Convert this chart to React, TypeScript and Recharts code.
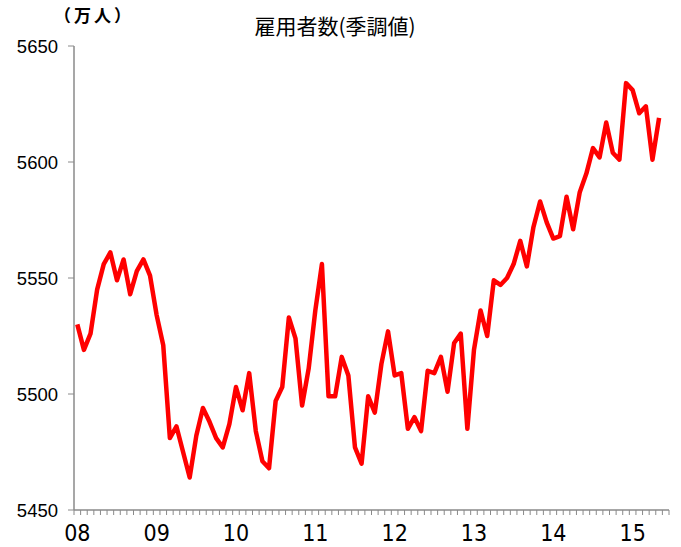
import React from 'react';
import { LineChart, Line, XAxis, YAxis } from 'recharts';

// 雇用者数（季節調整値）, 2008年1月〜2015年5月, 単位: 万人
const yearLabels = ['08', '09', '10', '11', '12', '13', '14', '15'];
const monthLabels = ['01', '02', '03', '04', '05', '06', '07', '08', '09', '10', '11', '12'];

const employees = [
    5530, 5519, 5526, 5545, 5556, 5561, 5549, 5558, 5543, 5553, 5558, 5551,
    5534, 5521, 5481, 5486, 5475, 5464, 5482, 5494, 5488, 5481, 5477, 5487,
    5503, 5493, 5509, 5484, 5471, 5468, 5497, 5503, 5533, 5524, 5495, 5511,
    5536, 5556, 5499, 5499, 5516, 5508, 5477, 5470, 5499, 5492, 5513, 5527,
    5508, 5509, 5485, 5490, 5484, 5510, 5509, 5516, 5501, 5522, 5526, 5485,
    5519, 5536, 5525, 5549, 5547, 5550, 5556, 5566, 5555, 5572, 5583, 5574,
    5567, 5568, 5585, 5571, 5587, 5595, 5606, 5602, 5617, 5604, 5601, 5634,
    5631, 5621, 5624, 5601, 5619,
];

const yTicks = [5450, 5500, 5550, 5600, 5650];

// 軸は2015年6月まで（最後の月は空）
const categories = yearLabels.flatMap(y => monthLabels.map(m => `${y}/${m}`)).slice(0, 90);

const data = categories.map((c, i) => ({
    month: c,
    value: i < employees.length ? employees[i] : null,
}));

const CHART_W = 681;
const CHART_H = 547;
const LEFT = 74;
const RIGHT = 12;
const PLOT_W = CHART_W - LEFT - RIGHT;
const STEP = PLOT_W / categories.length;
const AXIS_COLOR = '#8a8a8a';

const MonthTick = (props: any) => {
    const { x, y, payload } = props;
    const idx = payload.index;
    const label: string = payload.value;
    const isJan = label.endsWith('/01');
    const isLast = idx === categories.length - 1;
    return (
        <g>
            <line x1={x - STEP / 2} x2={x - STEP / 2} y1={y} y2={y + 5} stroke={AXIS_COLOR} strokeWidth={1} />
            {isLast && (
                <line x1={x + STEP / 2} x2={x + STEP / 2} y1={y} y2={y + 5} stroke={AXIS_COLOR} strokeWidth={1} />
            )}
            {isJan && (
                <text
                    x={x}
                    y={y + 31}
                    textAnchor="middle"
                    fill="#000"
                    fontSize={23}
                    fontFamily="'Liberation Sans Narrow', 'DejaVu Sans Condensed', 'Liberation Sans', sans-serif"
                >
                    {label.slice(0, 2)}
                </text>
            )}
        </g>
    );
};

export default function App() {
    return (
        <div style={{ position: 'absolute', left: 0, top: 0, width: CHART_W, height: CHART_H, background: '#fff' }}>
            <div
                lang="ja"
                style={{
                    position: 'absolute',
                    left: 54,
                    top: 6,
                    fontSize: 17,
                    lineHeight: 1,
                    letterSpacing: 3,
                    fontFamily: "'Noto Sans CJK JP', sans-serif",
                    fontWeight: 700,
                    color: '#000',
                }}
            >
                （万人）
            </div>
            <div
                style={{
                    position: 'absolute',
                    left: 0,
                    width: 670,
                    top: 15,
                    textAlign: 'center',
                    fontSize: 21,
                    lineHeight: 1,
                    fontFamily: "'Noto Sans CJK JP', sans-serif",
                    color: '#000',
                }}
            >
                雇用者数(季調値)
            </div>
            <LineChart
                width={CHART_W}
                height={CHART_H}
                data={data}
                margin={{ top: 46, right: RIGHT, bottom: 0, left: 0 }}
            >
                <XAxis
                    dataKey="month"
                    height={37}
                    interval={0}
                    padding={{ left: STEP / 2, right: STEP / 2 }}
                    axisLine={{ stroke: AXIS_COLOR, strokeWidth: 1.5 }}
                    tickLine={false}
                    tickSize={0}
                    tickMargin={0}
                    tick={<MonthTick />}
                />
                <YAxis
                    width={LEFT}
                    domain={[5450, 5650]}
                    ticks={yTicks}
                    interval={0}
                    axisLine={{ stroke: AXIS_COLOR, strokeWidth: 1.5 }}
                    tickLine={{ stroke: AXIS_COLOR }}
                    tickSize={6}
                    tickMargin={10}
                    tick={{
                        fill: '#000',
                        fontSize: 18.5,
                        fontFamily: "'Liberation Sans', Arial, sans-serif",
                    }}
                />
                <Line
                    type="linear"
                    dataKey="value"
                    stroke="#ff0000"
                    strokeWidth={4.5}
                    dot={false}
                    activeDot={false}
                    strokeLinejoin="round"
                    isAnimationActive={false}
                />
            </LineChart>
        </div>
    );
}
